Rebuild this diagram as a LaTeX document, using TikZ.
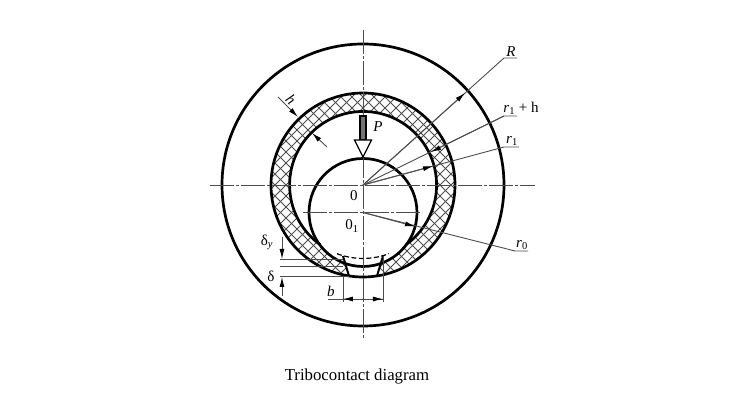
\documentclass[tikz,border=0pt]{standalone}
\usepackage{fontspec}
\setmainfont{Liberation Serif}
\usetikzlibrary{arrows.meta}
\tikzset{
  thickline/.style={line width=2.7pt, black},
  thinline/.style={line width=0.9pt, black!70},
  axisline/.style={line width=0.9pt, black!70, dash pattern=on 24pt off 2pt on 3pt off 2pt},
  dimarrow/.style={line width=0.9pt, black!70, -{Latex[length=10pt,width=5pt,black]}},
  hatchline/.style={line width=0.8pt, black!70},
  lbl/.style={inner sep=0pt, font=\fontsize{15}{15}\selectfont}
}
\begin{document}
\begin{tikzpicture}[x=1pt,y=1pt]
\useasboundingbox (-363,-226) rectangle (368,185);
\coordinate (O) at (0,0);
\coordinate (O1) at (0,-27.5);
% hatched ring
\begin{scope}[even odd rule]
\clip (O) circle (92) (O) circle (73.5);
\foreach \i in {-12,...,12}{
  \draw[hatchline] (11*\i-100,-100) -- (11*\i+100,100);
  \draw[hatchline] (11*\i-100,100) -- (11*\i+100,-100);
}
\end{scope}
% contact zone, left white
\fill[white] (-14,-91) -- (-20,-71) -- (20,-71) -- (14,-91) -- cycle;
\fill[white] (O1) circle (54);
% circles
\draw[thickline] (O) circle (141);
\draw[thickline] (O) circle (92);
\draw[thickline] (-43,-59.5) arc[start angle=234.1,end angle=-54.1,radius=73.5];
\draw[thickline] (O1) circle (54);
\draw[line width=1.2pt, dash pattern=on 5pt off 2.5pt] (-26,-68.7) arc[start angle=249.3,end angle=290.7,radius=73.5];
\draw[line width=2pt] (-20,-71) -- (-14,-91);
\draw[line width=2pt] (20,-71) -- (14,-91);
% axes
\draw[axisline] (-153,0) -- (172,0);
\draw[axisline] (0,155) -- (0,-153);
\draw[axisline] (-60,-27.5) -- (59,-27.5);
% leaders
\coordinate (Rend) at (141,127);
\coordinate (Rtip) at (102,92);
\node[lbl, anchor=south, font=\fontsize{15}{15}\selectfont\itshape] (Rlbl) at (148,128.5) {R};
\draw[thinline] (O) -- (Rend) -- (154,127);
\draw[dimarrow] (O) -- (Rtip);
\coordinate (Hend) at (141,69);
\coordinate (Htip) at (68,33);
\node[lbl, anchor=south] (Hlbl) at (158,70.5) {\textit{r}\textsubscript{1} + h};
\draw[thinline] (O) -- (Hend) -- (154,69);
\draw[dimarrow] (Hend) -- (Htip);
\coordinate (Aend) at (141,38);
\coordinate (Atip) at (70,18.9);
\node[lbl, anchor=south] (Albl) at (149,39.5) {\textit{r}\textsubscript{1}};
\draw[thinline] (O) -- (Aend) -- (156,38);
\draw[dimarrow] (O) -- (Atip);
\coordinate (Bend) at (152,-66);
\coordinate (Btip) at (52,-41.5);
\node[lbl, anchor=south] (Blbl) at (159,-64.5) {\textit{r}\textsubscript{0}};
\draw[thinline] (O1) -- (Bend) -- (165,-66);
\draw[dimarrow] (O1) -- (Btip);
% thickness h
\coordinate (Ha) at (-85,88);
\coordinate (Hb) at (-65,68);
\coordinate (Hc) at (-36,38);
\coordinate (Hd) at (-51,52);
\draw[dimarrow] (Ha) -- (Hb);
\draw[dimarrow] (Hc) -- (Hd);
\node[lbl, rotate=-45, font=\fontsize{15}{15}\selectfont\itshape] (hlbl) at (-72,86) {h};
% load P
\fill[black!55] (-3,45) rectangle (3,69);
\draw[line width=1.2pt] (-3,45) rectangle (3,69);
\draw[line width=1.2pt, fill=white] (-8.5,45) -- (8.5,45) -- (0,28) -- cycle;
\node[lbl, font=\fontsize{15}{15}\selectfont\itshape] (Plbl) at (15,58) {P};
% centres
\node[lbl] (Olbl) at (-9,-11) {0};
\node[lbl] (Oolbl) at (-11,-41) {0\textsubscript{1}};
% delta
\coordinate (Da) at (-83,-74);
\coordinate (Db) at (-83,-81);
\coordinate (Dc) at (-83,-91.5);
\draw[thinline] (Da) -- (-20,-74);
\draw[thinline] (Db) -- (-20,-81);
\draw[thinline] (Dc) -- (-14,-91.5);
\draw[dimarrow] (-81,-52) -- (-81,-74);
\draw[dimarrow] (-81,-111) -- (-81,-92);
\node[lbl] (dylbl) at (-96,-57) {δ\textsubscript{\textit{y}}};
\node[lbl] (dlbl) at (-92,-91) {δ};
% width b
\coordinate (Ba) at (-20,-91);
\coordinate (Bb) at (20,-71);
\draw[thinline] (Ba) -- (-20,-117);
\draw[thinline] (Bb) -- (20,-117);
\draw[thinline] (-35,-114) -- (20,-114);
\draw[dimarrow] (-8,-114) -- (-20,-114);
\draw[dimarrow] (8,-114) -- (20,-114);
\node[lbl, font=\fontsize{15}{15}\selectfont\itshape] (blbl) at (-32,-106) {b};
\node[lbl, font=\fontsize{16.8}{17}\selectfont] (cap) at (-6,-191) {Tribocontact diagram};
\end{tikzpicture}
\end{document}
